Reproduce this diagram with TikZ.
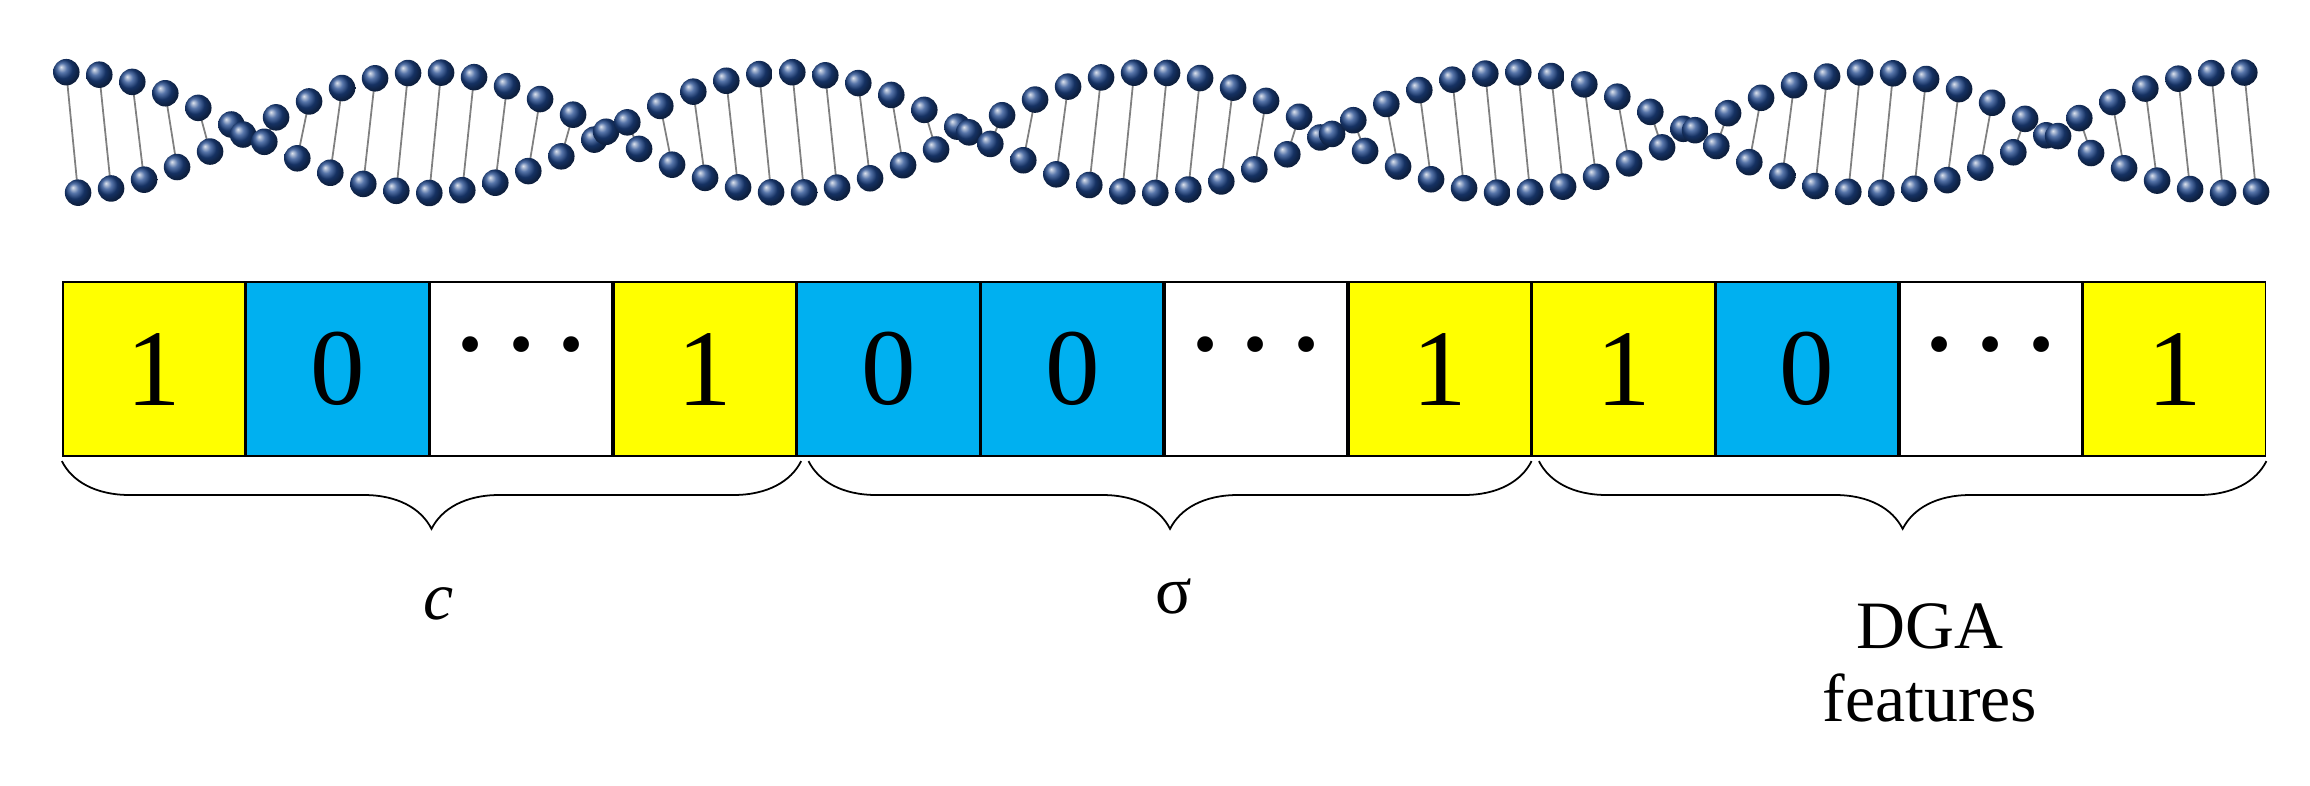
\documentclass[tikz,border=0pt]{standalone}
\usepackage{fontspec}
\setmainfont{Liberation Serif}
\usetikzlibrary{positioning,decorations.pathreplacing}
\definecolor{bitY}{RGB}{255,255,0}
\definecolor{bitB}{RGB}{0,176,240}
\definecolor{dnablue}{RGB}{30,70,140}
\newcommand{\bitdots}{\raisebox{0.12em}{\fontsize{90}{90}\selectfont\textperiodcentered\kern0.05em\textperiodcentered\kern0.05em\textperiodcentered}}
\tikzset{
  cell/.style={draw=black,line width=1.2pt,minimum width=123.5pt,minimum height=117.8pt,inner sep=0pt,anchor=north west,font=\fontsize{74}{80}\selectfont},
  yel/.style={cell,fill=bitY},
  blu/.style={cell,fill=bitB},
  wht/.style={cell,fill=white},
  brc/.style={decorate,decoration={brace,mirror,amplitude=46pt},line width=1.2pt},
  lbl/.style={font=\fontsize{46}{50}\selectfont}
}
\begin{document}
\begin{tikzpicture}[x=1pt,y=-1pt]
\useasboundingbox (0,0) rectangle (1568,533);
% helix
\foreach \i in {0,...,66}{
  \pgfmathsetmacro{\xx}{45+\i*22.4}
  \pgfmathsetmacro{\ya}{90-41*cos(0.73469*(\xx-45))}
  \pgfmathsetmacro{\xb}{\xx+8}
  \pgfmathsetmacro{\yb}{180-90+41*cos(0.73469*(\xb-45))}
  \draw[gray,line width=1.2pt] (\xx,\ya) -- (\xb,\yb);
  \shade[ball color=dnablue] (\xx,\ya) circle (9);
  \shade[ball color=dnablue] (\xb,\yb) circle (9);
}
% bits
\node[yel] (b1) at (42,191) {1};
\node[blu,right=0pt of b1] (b2) {0};
\node[wht,right=0pt of b2] (b3) {\bitdots};
\node[yel,right=0pt of b3] (b4) {1};
\node[blu,right=0pt of b4] (b5) {0};
\node[blu,right=0pt of b5] (b6) {0};
\node[wht,right=0pt of b6] (b7) {\bitdots};
\node[yel,right=0pt of b7] (b8) {1};
\node[yel,right=0pt of b8] (b9) {1};
\node[blu,right=0pt of b9] (b10) {0};
\node[wht,right=0pt of b10] (b11) {\bitdots};
\node[yel,right=0pt of b11] (b12) {1};
% braces
\draw[brc] ([yshift=-3pt]b1.south west) -- ([xshift=3pt,yshift=-3pt]b4.south east);
\draw[brc] ([xshift=8pt,yshift=-3pt]b5.south west) -- ([yshift=-3pt]b8.south east);
\draw[brc] ([xshift=5pt,yshift=-3pt]b9.south west) -- ([yshift=-3pt]b12.south east);
\node[lbl] (c) at (298,410) {\textit{c}};
\node[lbl] (s) at (797,405) {σ};
\node[lbl,align=center] (d) at (1310,450) {DGA\\features};
\end{tikzpicture}
\end{document}
